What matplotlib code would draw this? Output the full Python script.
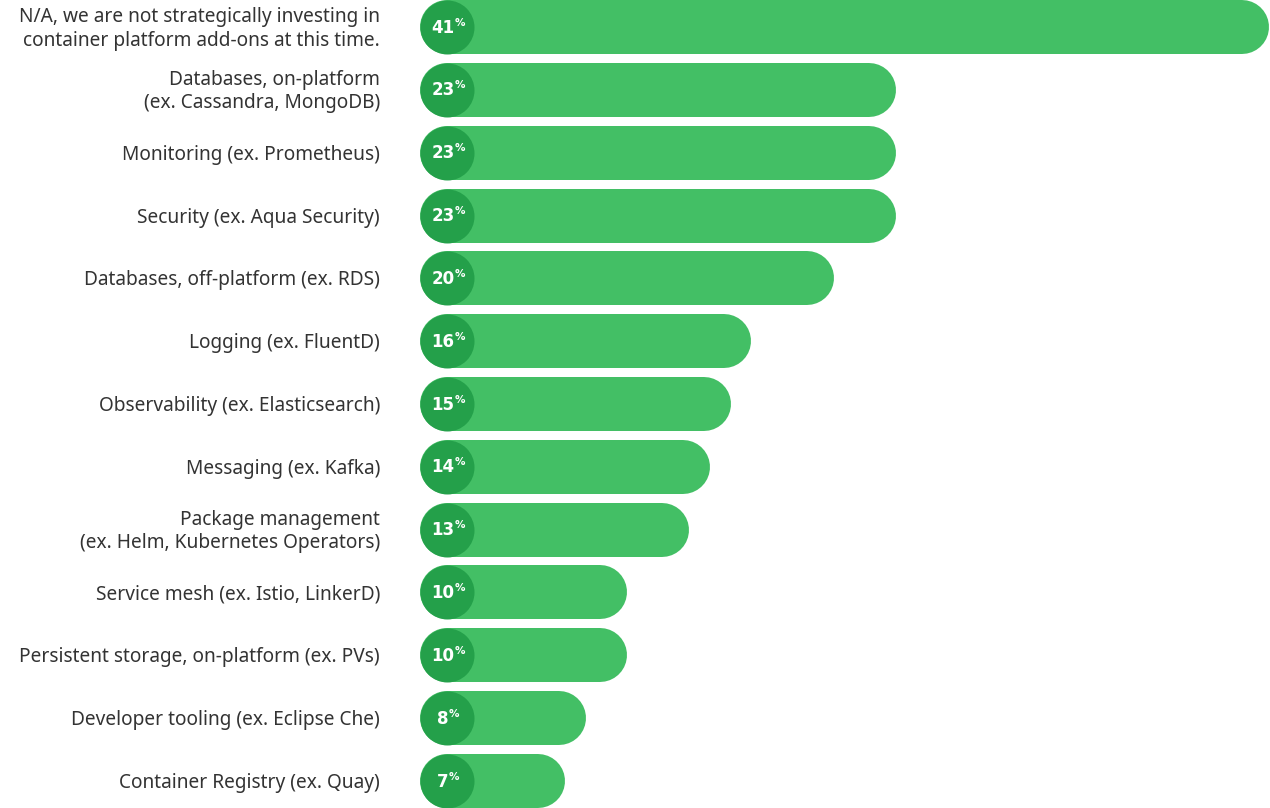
import matplotlib.pyplot as plt

labels = [
    "N/A, we are not strategically investing in\ncontainer platform add-ons at this time.",
    "Databases, on-platform\n(ex. Cassandra, MongoDB)",
    "Monitoring (ex. Prometheus)",
    "Security (ex. Aqua Security)",
    "Databases, off-platform (ex. RDS)",
    "Logging (ex. FluentD)",
    "Observability (ex. Elasticsearch)",
    "Messaging (ex. Kafka)",
    "Package management\n(ex. Helm, Kubernetes Operators)",
    "Service mesh (ex. Istio, LinkerD)",
    "Persistent storage, on-platform (ex. PVs)",
    "Developer tooling (ex. Eclipse Che)",
    "Container Registry (ex. Quay)",
]
values = [41, 23, 23, 23, 20, 16, 15, 14, 13, 10, 10, 8, 7]

W, H, DPI = 1270, 808, 100
bar_color = '#43BF65'
dot_color = '#24A04A'
text_color = '#333333'

px_per_pct = 20.7
bar_px = 54
pitch = 62.83
r = (bar_px / 2) / px_per_pct  # cap radius in % units

fig = plt.figure(figsize=(W / DPI, H / DPI), dpi=DPI)
left = 420
ax = fig.add_axes([left / W, 0, 1 - left / W, 1])
ax.set_xlim(0, (W - left) / px_per_pct)
half = (bar_px / 2) / pitch
ax.set_ylim(len(values) - 1 + half, -half)
ax.axis('off')

lw = bar_px * 72 / DPI
for i, (lab, v) in enumerate(zip(labels, values)):
    ax.plot([r, v - r], [i, i], color=bar_color, linewidth=lw,
            solid_capstyle='round', zorder=1)
    ax.plot([r], [i], marker='o', markersize=lw, color=dot_color,
            markeredgewidth=0, zorder=2)
    num = ax.text(r - 0.2, i + 0.01, str(v), ha='center', va='center', color='white',
                  fontsize=12, fontweight='bold', family='DejaVu Sans', zorder=3)
    ax.annotate('%', xy=(1, 0.5), xycoords=num, xytext=(0, 0),
                textcoords='offset points', ha='left', va='bottom',
                color='white', fontsize=7.5, fontweight='bold',
                family='DejaVu Sans', zorder=3)
    ax.annotate(lab, xy=(0, i), xycoords='data', xytext=(-40, -2),
                textcoords='offset pixels', ha='right', va='center',
                color=text_color, fontsize=13.75, family='Noto Sans',
                multialignment='right', linespacing=1.22)

fig.savefig('out.png', dpi=DPI)
